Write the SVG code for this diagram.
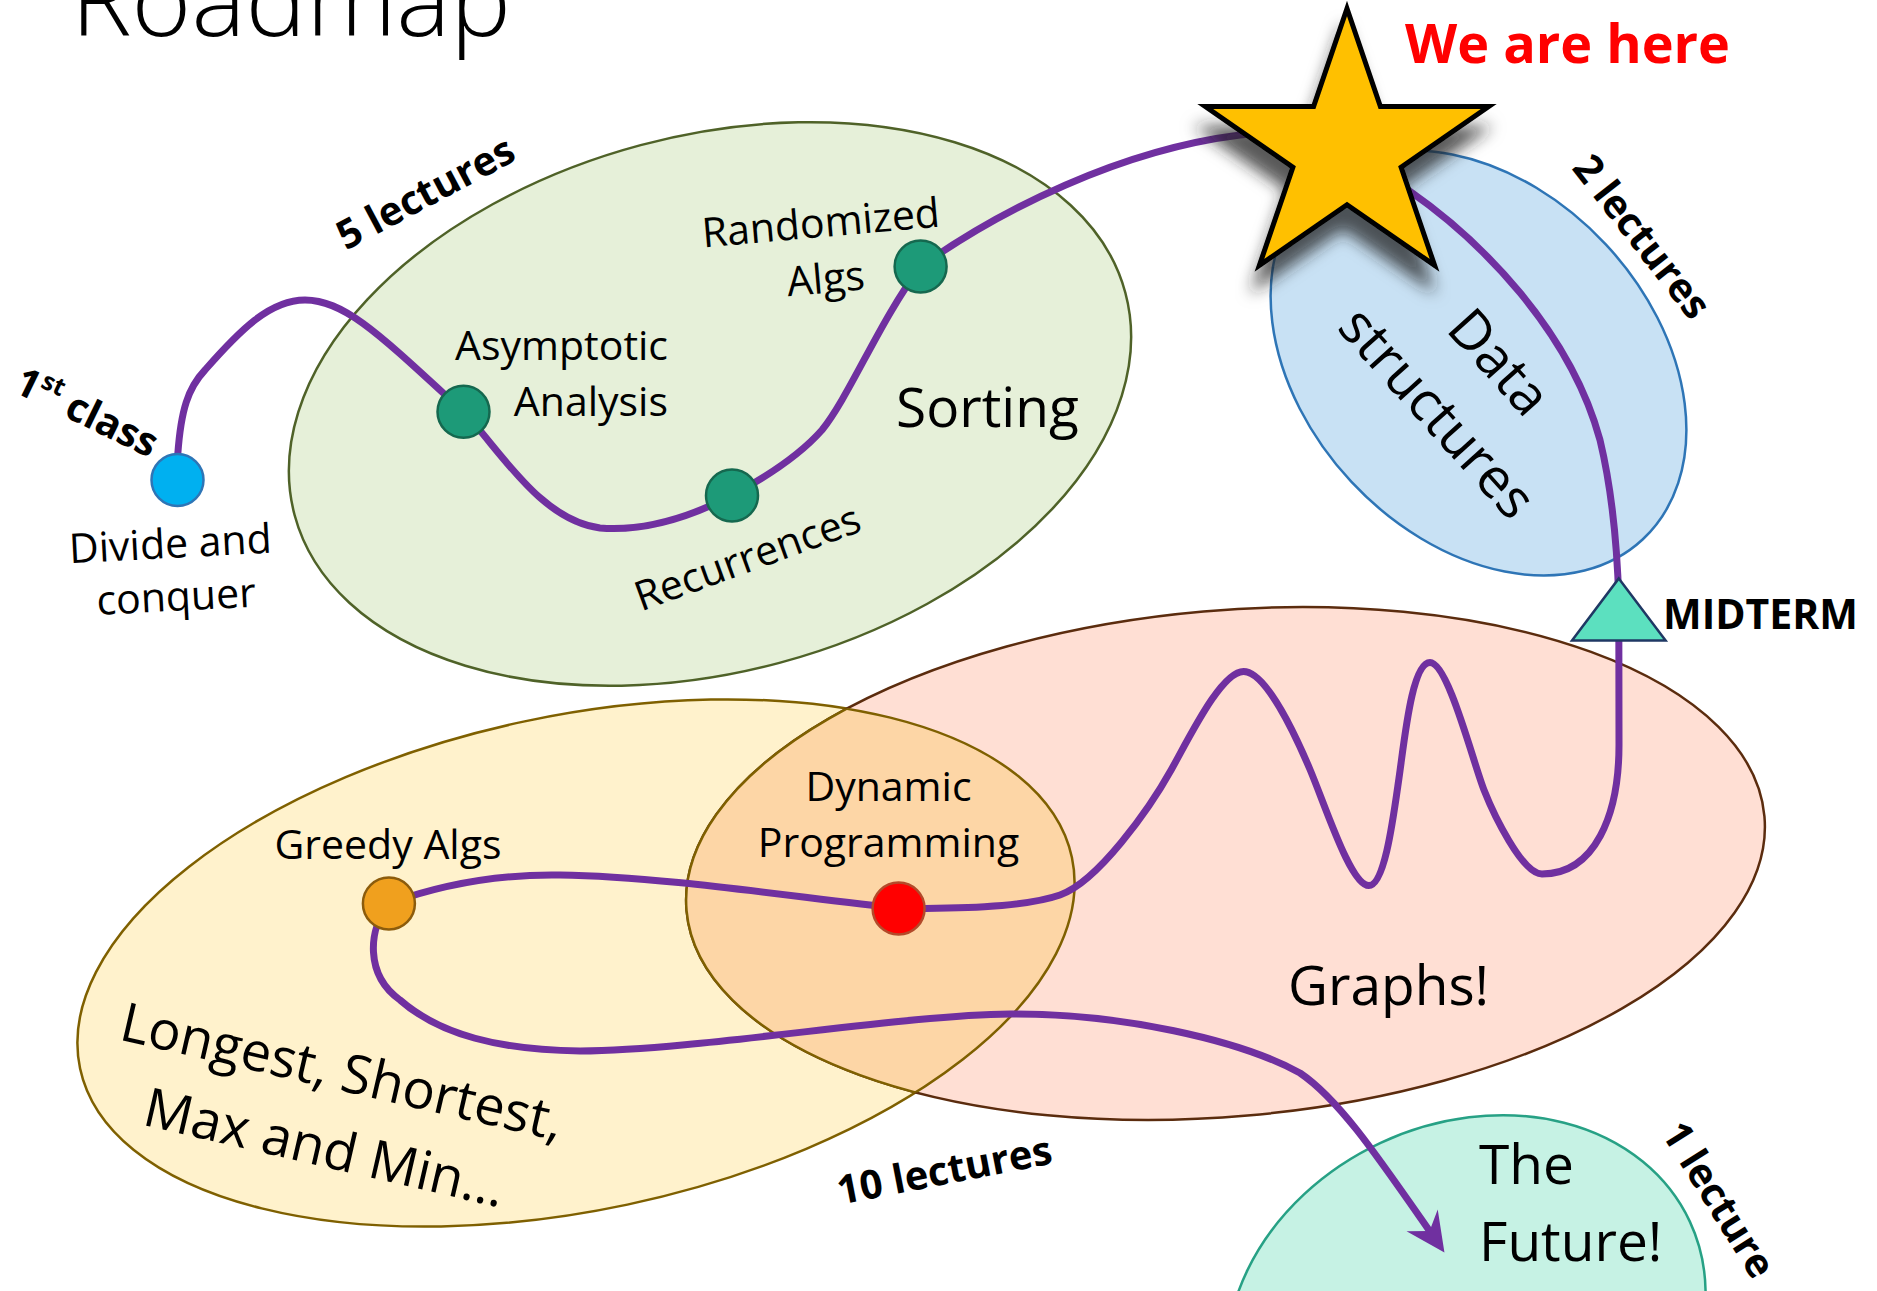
<svg xmlns="http://www.w3.org/2000/svg" width="1877" height="1291" viewBox="0 0 1877 1291">
<defs>
<style>
.t{font-family:"Open Sans","Liberation Sans",sans-serif;fill:#000}
.b{font-weight:700}
.edge{fill:none;stroke:#7030A0;stroke-width:7;stroke-linecap:round;stroke-linejoin:round}
.node{stroke-width:2.5}
.region{stroke-width:2.5}
</style>
<marker id="arr" markerUnits="userSpaceOnUse" markerWidth="60" markerHeight="60" viewBox="-30 -30 60 60" refX="0" refY="0" orient="auto"><path d="M20,0 L-19,-19 L-6,0 L-19,19 Z" fill="#7030A0"/></marker>
<filter id="shadow" x="-30%" y="-30%" width="160%" height="170%"><feDropShadow dx="-4" dy="22" stdDeviation="8" flood-color="#222" flood-opacity="0.75"/></filter>
<clipPath id="clipY"><ellipse cx="576" cy="963" rx="507" ry="247" transform="rotate(-12 576 963)"/></clipPath>
<clipPath id="clipP"><ellipse cx="1225.5" cy="863.5" rx="541" ry="253" transform="rotate(-5 1225.5 863.5)"/></clipPath>
</defs>
<rect width="1877" height="1291" fill="#fff"/>
<text id="title" class="t" x="71" y="36" font-size="102" font-weight="300">Roadmap</text>

<g id="sorting">
<ellipse class="region" cx="710" cy="404" rx="430" ry="268" transform="rotate(-15 710 404)" fill="#E6F0D9" stroke="#4F6228"/>
<text class="t" x="896" y="427" font-size="55">Sorting</text>
<text class="t b" transform="translate(432,205) rotate(-28)" text-anchor="middle" font-size="40">5 lectures</text>
</g>

<g id="data-structures">
<ellipse class="region" cx="1478.5" cy="363" rx="241" ry="174" transform="rotate(47 1478.5 363)" fill="#C8E1F4" stroke="#2E75B6"/>
<g transform="translate(1467.5,388) rotate(48)">
<text class="t" x="2" y="-22" text-anchor="middle" font-size="55">Data</text>
<text class="t" x="-2" y="58" text-anchor="middle" font-size="55">structures</text>
</g>
<text class="t b" transform="translate(1631,245) rotate(52)" text-anchor="middle" font-size="40">2 lectures</text>
</g>

<g id="greedy">
<ellipse class="region" cx="576" cy="963" rx="507" ry="247" transform="rotate(-12 576 963)" fill="#FFF2CC" stroke="#7F6000"/>
</g>

<g id="graphs">
<ellipse class="region" cx="1225.5" cy="863.5" rx="541" ry="253" transform="rotate(-5 1225.5 863.5)" fill="#FFDFD4" stroke="#5B2C0E"/>
<text class="t" x="1288" y="1005" font-size="55">Graphs!</text>
</g>

<g id="dynamic-programming">
<g clip-path="url(#clipY)"><ellipse class="region" cx="1225.5" cy="863.5" rx="541" ry="253" transform="rotate(-5 1225.5 863.5)" fill="#FDD6A6" stroke="#7F6000"/></g>
<g clip-path="url(#clipP)"><ellipse class="region" cx="576" cy="963" rx="507" ry="247" transform="rotate(-12 576 963)" fill="none" stroke="#7F6000"/></g>
<text class="t" x="888.5" y="801" text-anchor="middle" font-size="41">Dynamic</text>
<text class="t" x="888.5" y="857" text-anchor="middle" font-size="41">Programming</text>
</g>

<g id="greedy-labels">
<g transform="translate(338,1090) rotate(13)">
<text class="t" x="0" y="0" text-anchor="middle" font-size="54">Longest, Shortest,</text>
<text class="t" x="0" y="78" text-anchor="middle" font-size="54">Max and Min…</text>
</g>
<text class="t b" transform="translate(947,1184) rotate(-11)" text-anchor="middle" font-size="40">10 lectures</text>
</g>

<g id="future">
<ellipse class="region" cx="1466" cy="1326" rx="247" ry="202" transform="rotate(-25 1466 1326)" fill="#C6F2E4" stroke="#27A185"/>
<text class="t" x="1479" y="1184" font-size="55">The</text>
<text class="t" x="1479" y="1261" font-size="55">Future!</text>
<text class="t b" transform="translate(1707,1207) rotate(58)" text-anchor="middle" font-size="40">1 lecture</text>
</g>

<g id="connectors">
<path class="edge" d="M177.5,480 L177.8,454 C181,410 188,388 205,370 C240,330 270,300 305,300 C345,300 380,335 463.5,411.7"/>
<path class="edge" d="M463.5,411.7 C500,450 540,520 600,528 C650,532 700,512 732,495.4"/>
<path class="edge" d="M732,495.4 C770,475 800,455 822,430 C850,395 880,320 920.6,266.6"/>
<path class="edge" d="M920.6,266.6 C1000,210 1120,150 1240,135 C1290,129 1320,135 1347,150"/>
<path class="edge" d="M1347,150 C1380,165 1395,180 1409,190.7 C1480,240 1570,330 1600,440 C1612,490 1617,540 1618.8,600"/>
<path class="edge" d="M1618.8,600 L1619,745 C1619,815 1595,874 1542,874 C1522,874 1493.2,813.3 1484,790 C1473,762 1448,662.6 1430,662.6 C1412,662.6 1404.7,738.4 1399,778 C1393.3,817.6 1384.8,885.6 1368.8,885.6 C1350.8,885.6 1325.6,806.3 1310,769.5 C1294.4,732.7 1265.6,671.5 1243.6,671.5 C1221.6,671.5 1190.9,734.6 1171.4,769.5 C1149.5,808.8 1097.8,881.8 1060,895 C1022.2,908.2 950,908.4 898.6,908.4"/>
<path class="edge" d="M898.6,908.4 C800,898 660,876 560,875 C500,874 440,885 388.9,903.4"/>
<path class="edge" marker-end="url(#arr)" d="M388.9,903.4 C368,930 365,975 400,1000 C440,1035 500,1050 580,1051 C700,1050 900,1015 1010,1014 C1120,1013 1240,1040 1300,1073 C1340,1100 1380,1160 1433,1236"/>
</g>

<g id="node-divide">
<circle class="node" cx="177.5" cy="480" r="26" fill="#00B0F0" stroke="#2E75B6"/>
<g transform="translate(171,558) rotate(-3)">
<text class="t" x="0" y="0" text-anchor="middle" font-size="41">Divide and</text>
<text class="t" x="3" y="53" text-anchor="middle" font-size="41">conquer</text>
</g>
<text class="t b" transform="translate(12,391) rotate(26)" font-size="40">1<tspan font-size="25" dy="-16">st</tspan><tspan dy="16"> class</tspan></text>
</g>

<g id="node-asymptotic">
<circle class="node" cx="463.5" cy="411.7" r="26" fill="#1D9A78" stroke="#15684F"/>
<text class="t" x="668" y="360" text-anchor="end" font-size="41">Asymptotic</text>
<text class="t" x="668" y="416" text-anchor="end" font-size="41">Analysis</text>
</g>

<g id="node-recurrences">
<circle class="node" cx="732" cy="495.4" r="26" fill="#1D9A78" stroke="#15684F"/>
<text class="t" transform="translate(641,611.5) rotate(-20)" font-size="41">Recurrences</text>
</g>

<g id="node-randomized">
<circle class="node" cx="920.6" cy="266.6" r="26" fill="#1D9A78" stroke="#15684F"/>
<g transform="translate(822,237) rotate(-5)">
<text class="t" x="0" y="0" text-anchor="middle" font-size="41">Randomized</text>
<text class="t" x="0" y="56" text-anchor="middle" font-size="41">Algs</text>
</g>
</g>

<g id="node-star">
<polygon points="1347,8.5 1380.4,106.6 1488.7,106.6 1401.1,167.2 1434.6,265.4 1347,204.7 1259.4,265.4 1292.9,167.2 1205.3,106.6 1313.6,106.6" fill="#FFC000" stroke="#000" stroke-width="5" filter="url(#shadow)"/>
<text class="t b" x="1405" y="63" font-size="54" style="fill:#FF0000">We are here</text>
</g>

<g id="node-midterm">
<polygon points="1618.8,578.4 1665.6,640.6 1572,640.6" fill="#5CE0BF" stroke="#1F3864" stroke-width="2.5"/>
<text class="t b" x="1663" y="629" font-size="41">MIDTERM</text>
</g>

<g id="node-greedy">
<circle class="node" cx="388.9" cy="903.4" r="26" fill="#F0A01E" stroke="#8C5C0C"/>
<text class="t" x="274.5" y="859" font-size="41">Greedy Algs</text>
</g>

<g id="node-dp">
<circle class="node" cx="898.6" cy="908.4" r="26" fill="#FF0000" stroke="#B34A2A"/>
</g>
</svg>
